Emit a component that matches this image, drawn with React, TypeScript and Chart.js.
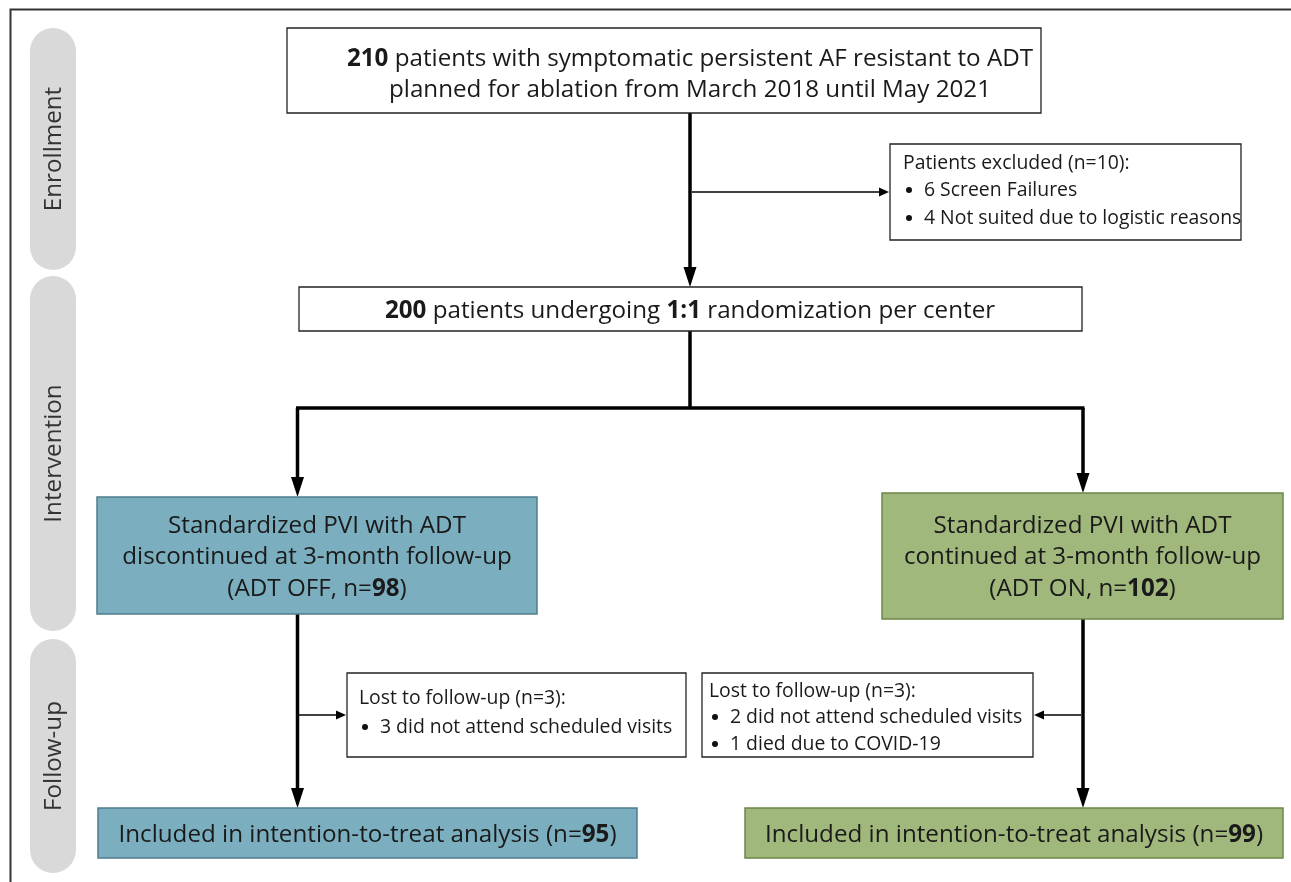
import { useEffect, useRef } from "react";
import { Chart, registerables } from "chart.js";
Chart.register(...registerables);

// ---- data ----
const stageLabels = ["Enrollment", "Intervention", "Follow-up"];
const screenedCount = [210];
const enrollmentPeriod = ["March 2018", "May 2021"];
const excludedCounts = [6, 4];
const excludedReasons = ["Screen Failures", "Not suited due to logistic reasons"];
const randomizedCount = [200];
const randomizationRatio = ["1:1"];
const armNames = ["ADT OFF", "ADT ON"];
const armActions = ["discontinued", "continued"];
const armCounts = [98, 102];
const lostCountsOff = [3];
const lostReasonsOff = ["did not attend scheduled visits"];
const lostCountsOn = [2, 1];
const lostReasonsOn = ["did not attend scheduled visits", "died due to COVID-19"];
const analysedCounts = [95, 99];

const sum = (a: number[]) => a.reduce((s, v) => s + v, 0);

// ---- layout (value space 0..1291 x 0..882) ----
const W = 1291;
const H = 882;
const FONT = "'Open Sans'";
const BIG = 24.2;
const SMALL = 19.4;
const PILL = 24.2;
const TEXT_DY = 1.8;
const BLUE = "#7bafbf";
const BLUE_EDGE = "#4f7e8d";
const GREEN = "#a1b87d";
const GREEN_EDGE = "#6c8748";

type Seg = { t: string; b?: boolean };

export default function App() {
  const ref = useRef<HTMLCanvasElement>(null);
  useEffect(() => {
    const plugin = {
      id: "flow",
      afterDraw(chart: any) {
        const ctx: CanvasRenderingContext2D = chart.ctx;
        const X = (v: number) => chart.scales.x.getPixelForValue(v);
        const Y = (v: number) => chart.scales.y.getPixelForValue(v);
        ctx.save();

        const rect = (x0: number, y0: number, x1: number, y1: number, fill: string, stroke: string, lw = 1.3) => {
          ctx.beginPath();
          ctx.rect(X(x0), Y(y0), X(x1) - X(x0), Y(y1) - Y(y0));
          ctx.fillStyle = fill;
          ctx.fill();
          ctx.lineWidth = lw;
          ctx.strokeStyle = stroke;
          ctx.stroke();
        };
        const font = (size: number, bold?: boolean) => `${bold ? "bold " : ""}${size}px ${FONT}`;
        const rich = (segs: Seg[], cx: number, cy: number, size: number, align: "center" | "left" = "center", color = "#1a1a1a") => {
          ctx.textBaseline = "middle";
          ctx.textAlign = "left";
          ctx.fillStyle = color;
          let total = 0;
          for (const s of segs) {
            ctx.font = font(size, s.b);
            total += ctx.measureText(s.t).width;
          }
          let x = align === "center" ? X(cx) - total / 2 : X(cx);
          for (const s of segs) {
            ctx.font = font(size, s.b);
            ctx.fillText(s.t, x, Y(cy) + TEXT_DY);
            x += ctx.measureText(s.t).width;
          }
        };
        const bullet = (text: string, x: number, y: number, size: number) => {
          ctx.beginPath();
          ctx.arc(X(x), Y(y) + 1, 3, 0, Math.PI * 2);
          ctx.fillStyle = "#111";
          ctx.fill();
          rich([{ t: text }], x + 15, y, size, "left");
        };
        const line = (x1: number, y1: number, x2: number, y2: number, lw: number) => {
          ctx.beginPath();
          ctx.moveTo(X(x1), Y(y1));
          ctx.lineTo(X(x2), Y(y2));
          ctx.lineWidth = lw;
          ctx.strokeStyle = "#000";
          ctx.lineCap = "butt";
          ctx.stroke();
        };
        const arrow = (x1: number, y1: number, x2: number, y2: number, lw: number, hl: number, hw: number) => {
          const px1 = X(x1), py1 = Y(y1), px2 = X(x2), py2 = Y(y2);
          const dx = px2 - px1, dy = py2 - py1;
          const len = Math.hypot(dx, dy);
          const ux = dx / len, uy = dy / len;
          ctx.beginPath();
          ctx.moveTo(px1, py1);
          ctx.lineTo(px2 - ux * hl * 0.9, py2 - uy * hl * 0.9);
          ctx.lineWidth = lw;
          ctx.strokeStyle = "#000";
          ctx.stroke();
          ctx.beginPath();
          ctx.moveTo(px2, py2);
          ctx.lineTo(px2 - ux * hl - uy * hw / 2, py2 - uy * hl + ux * hw / 2);
          ctx.lineTo(px2 - ux * hl + uy * hw / 2, py2 - uy * hl - ux * hw / 2);
          ctx.closePath();
          ctx.fillStyle = "#000";
          ctx.fill();
        };

        // outer frame
        ctx.beginPath();
        ctx.moveTo(X(10.5), Y(H));
        ctx.lineTo(X(10.5), Y(9.5));
        ctx.lineTo(X(W), Y(9.5));
        ctx.lineWidth = 2;
        ctx.strokeStyle = "#333";
        ctx.stroke();

        // stage pills
        const pills = [
          [28, 270],
          [276, 631],
          [639, 873],
        ];
        pills.forEach(([y0, y1], i) => {
          const x0 = X(30), x1 = X(76);
          const r = (x1 - x0) / 2;
          ctx.beginPath();
          ctx.moveTo(x0, Y(y0) + r);
          ctx.arc(x0 + r, Y(y0) + r, r, Math.PI, 0);
          ctx.lineTo(x1, Y(y1) - r);
          ctx.arc(x0 + r, Y(y1) - r, r, 0, Math.PI);
          ctx.closePath();
          ctx.fillStyle = "#d9d9d9";
          ctx.fill();
          ctx.save();
          ctx.translate(X(54), Y((y0 + y1) / 2));
          ctx.rotate(-Math.PI / 2);
          ctx.font = font(PILL);
          ctx.fillStyle = "#333";
          ctx.textAlign = "center";
          ctx.textBaseline = "middle";
          ctx.fillText(stageLabels[i], 0, 0);
          ctx.restore();
        });

        // connectors
        arrow(690, 113, 690, 287, 3.5, 20, 13);
        arrow(692, 192, 889, 192, 1.3, 10, 9);
        line(690, 331, 690, 409, 3.5);
        line(296, 408, 1084.5, 408, 3.5);
        arrow(297.5, 408, 297.5, 497, 3.5, 20, 13);
        arrow(1083, 408, 1083, 493, 3.5, 20, 13);
        arrow(297.5, 614, 297.5, 808, 3.5, 20, 13);
        arrow(299, 715, 346, 715, 1.3, 10, 9);
        arrow(1083, 619, 1083, 808, 3.5, 20, 13);
        arrow(1081, 715, 1034, 715, 1.3, 10, 9);

        // box 1
        rect(287, 28, 1041, 113, "#fff", "#222");
        rich([{ t: String(screenedCount[0]), b: true }, { t: " patients with symptomatic persistent AF resistant to ADT" }], 690, 57, BIG);
        rich([{ t: `planned for ablation from ${enrollmentPeriod[0]} until ${enrollmentPeriod[1]}` }], 690, 88, BIG);

        // exclusion box
        rect(890, 144, 1241, 240, "#fff", "#222");
        rich([{ t: `Patients excluded (n=${sum(excludedCounts)}):` }], 903, 162, SMALL, "left");
        excludedCounts.forEach((c, i) => bullet(`${c} ${excludedReasons[i]}`, 909, 189 + i * 28, SMALL));

        // randomization box
        rect(299, 287, 1082, 331, "#fff", "#222");
        rich([
          { t: String(randomizedCount[0]), b: true },
          { t: " patients undergoing " },
          { t: randomizationRatio[0], b: true },
          { t: " randomization per center" },
        ], 690, 309, BIG);

        // arm boxes
        const arms = [
          { x0: 97, x1: 537, y0: 497, y1: 614, fill: BLUE, edge: BLUE_EDGE },
          { x0: 882, x1: 1283, y0: 493, y1: 619, fill: GREEN, edge: GREEN_EDGE },
        ];
        arms.forEach((a, i) => {
          rect(a.x0, a.y0, a.x1, a.y1, a.fill, a.edge, 1.5);
          const cx = (a.x0 + a.x1) / 2;
          rich([{ t: "Standardized PVI with ADT" }], cx, 524, BIG);
          rich([{ t: `${armActions[i]} at 3-month follow-up` }], cx, 555, BIG);
          rich([{ t: `(${armNames[i]}, n=` }, { t: String(armCounts[i]), b: true }, { t: ")" }], cx, 587, BIG);
        });

        // lost boxes
        rect(347, 673, 686, 757, "#fff", "#222");
        rich([{ t: `Lost to follow-up (n=${sum(lostCountsOff)}):` }], 359, 697, SMALL, "left");
        lostCountsOff.forEach((c, i) => bullet(`${c} ${lostReasonsOff[i]}`, 365, 726 + i * 27, SMALL));

        rect(702, 673, 1033, 757, "#fff", "#222");
        rich([{ t: `Lost to follow-up (n=${sum(lostCountsOn)}):` }], 709, 690, SMALL, "left");
        lostCountsOn.forEach((c, i) => bullet(`${c} ${lostReasonsOn[i]}`, 715, 716 + i * 27, SMALL));

        // analysis boxes
        const fin = [
          { x0: 98, x1: 637, fill: BLUE, edge: BLUE_EDGE },
          { x0: 745, x1: 1283, fill: GREEN, edge: GREEN_EDGE },
        ];
        fin.forEach((f, i) => {
          rect(f.x0, 808, f.x1, 858, f.fill, f.edge, 1.5);
          rich([{ t: "Included in intention-to-treat analysis (n=" }, { t: String(analysedCounts[i]), b: true }, { t: ")" }], (f.x0 + f.x1) / 2, 833, BIG);
        });

        ctx.restore();
      },
    };
    const chart = new Chart(ref.current as HTMLCanvasElement, {
      type: "scatter",
      data: { datasets: [{ data: [] }] },
      options: {
        animation: false,
        responsive: false,
        maintainAspectRatio: false,
        layout: { padding: 0 },
        plugins: { legend: { display: false }, tooltip: { enabled: false } },
        scales: {
          x: { type: "linear", min: 0, max: W, display: false },
          y: { type: "linear", min: 0, max: H, reverse: true, display: false },
        },
      },
      plugins: [plugin],
    });
    return () => chart.destroy();
  }, []);
  return (
    <div style={{ position: "fixed", left: 0, top: 0, width: W, height: H, background: "#fff" }}>
      <canvas ref={ref} width={W} height={H} style={{ width: W, height: H, display: "block" }} />
    </div>
  );
}
